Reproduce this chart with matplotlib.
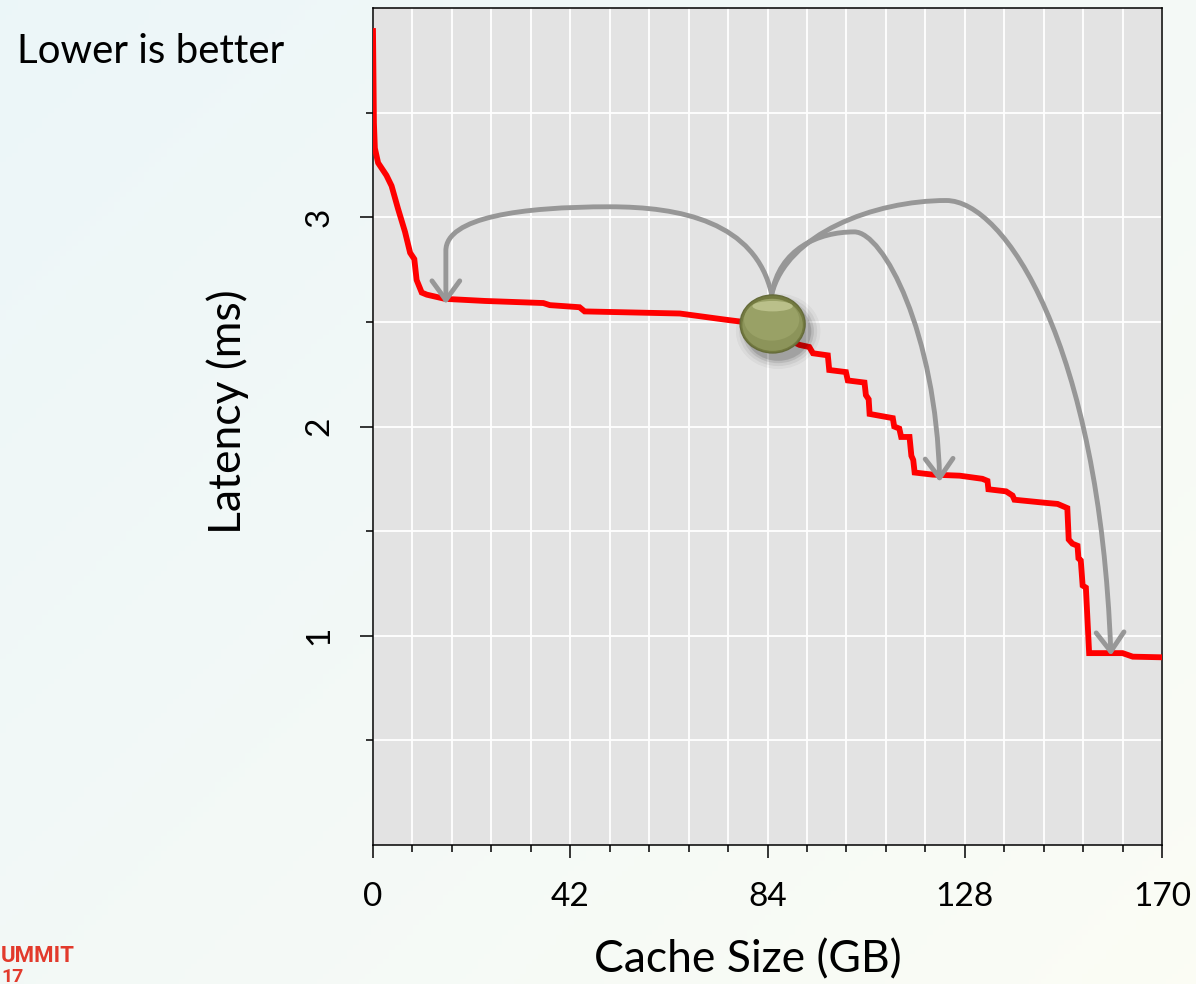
import numpy as np
import matplotlib
matplotlib.use("Agg")
import matplotlib.pyplot as plt
from matplotlib.patches import Ellipse, FancyArrowPatch
from matplotlib.path import Path

# ---------------- data ----------------
cache_gb = [0.0, 0.2, 0.4, 1.1, 2.9, 4.0, 5.4, 6.9, 8.0, 8.9, 9.4, 10.5, 11.6,
            15.5, 24.1, 36.7, 38.1, 44.5, 45.6, 66.1, 76.1, 79.7, 86.0, 88.0,
            90.0, 91.9, 94.0, 94.8, 98.0, 98.3, 101.9, 102.3, 105.9, 106.2,
            106.8, 107.0, 112.0, 112.3, 113.4, 113.8, 115.6, 116.0, 116.4,
            116.7, 120.6, 126.4, 131.3, 132.4, 132.6, 136.4, 137.8, 138.2,
            145.0, 147.5, 149.6, 149.9, 150.7, 151.8, 152.0, 152.5, 152.9,
            153.6, 154.3, 161.5, 163.7, 170.0]
latency_ms = [3.89, 3.45, 3.33, 3.26, 3.20, 3.15, 3.04, 2.93, 2.83, 2.80, 2.70,
              2.64, 2.63, 2.61, 2.60, 2.59, 2.58, 2.57, 2.55, 2.54, 2.51, 2.50,
              2.47, 2.44, 2.41, 2.39, 2.38, 2.35, 2.34, 2.27, 2.26, 2.22, 2.21,
              2.15, 2.13, 2.06, 2.04, 2.00, 1.99, 1.95, 1.95, 1.86, 1.84, 1.78,
              1.77, 1.765, 1.75, 1.74, 1.70, 1.69, 1.67, 1.65, 1.635, 1.63,
              1.61, 1.46, 1.44, 1.43, 1.37, 1.36, 1.24, 1.23, 0.917, 0.917,
              0.90, 0.897]

x_tick_pos = [0, 42.5, 85, 127.5, 170]
x_tick_labels = ["0", "42", "84", "128", "170"]
y_tick_pos = [1, 2, 3]
y_tick_labels = ["1", "2", "3"]

# ---------------- figure ----------------
FONT = "Lato"
plt.rcParams["font.family"] = [FONT, "DejaVu Sans"]

fig = plt.figure(figsize=(11.96, 9.84), dpi=100)

# slide background gradient
bg = fig.add_axes([0, 0, 1, 1], zorder=-10)
gx, gy = np.meshgrid(np.linspace(0, 1, 200), np.linspace(0, 1, 200))
t = np.clip(0.55 * gx + 0.45 * gy, 0, 1)
c0 = np.array([0.925, 0.965, 0.975])   # top-left light blue
c1 = np.array([0.985, 0.990, 0.960])   # bottom-right cream
img = c0[None, None, :] * (1 - t[..., None]) + c1[None, None, :] * t[..., None]
bg.imshow(img, extent=[0, 1, 0, 1], aspect="auto", origin="upper")
bg.axis("off")

ax = fig.add_axes([373 / 1196, 1 - 845 / 984, (1162 - 373) / 1196, (845 - 8) / 984])
ax.set_facecolor("#e3e3e3")
ax.set_xlim(0, 170)
ax.set_ylim(0, 4)

ax.set_xticks(x_tick_pos)
ax.set_xticklabels(x_tick_labels)
ax.set_xticks(np.arange(0, 170.01, 8.5), minor=True)
ax.set_yticks(y_tick_pos)
ax.set_yticklabels(y_tick_labels)
ax.set_yticks([0.5, 1.5, 2.5, 3.5], minor=True)

ax.grid(True, which="both", color="white", linewidth=1.3)
ax.set_axisbelow(True)

ax.tick_params(axis="both", which="major", direction="out", length=9.5,
               width=1.1, labelsize=24, color="black", labelcolor="black")
ax.tick_params(axis="both", which="minor", direction="out", length=5,
               width=1.1, color="black")
ax.tick_params(axis="x", which="major", pad=17)
ax.tick_params(axis="y", which="major", pad=18, labelrotation=90)
for lab in ax.get_yticklabels():
    lab.set_va("center")
for sp in ax.spines.values():
    sp.set_color("black")
    sp.set_linewidth(1.1)

# data line
ax.plot(cache_gb, latency_ms, color="#ff0000", linewidth=4.2,
        solid_joinstyle="miter", zorder=3)

# curved arrows from the marker
arrow_kw = dict(arrowstyle="->,head_length=0.55,head_width=0.4",
                mutation_scale=25, color="#979797", linewidth=3.5, zorder=4,
                joinstyle="round", capstyle="round")
M, C, L = Path.MOVETO, Path.CURVE4, Path.LINETO
start = (85.9, 2.63)
arrows = [
    ([start, (82.5, 2.98), (66, 3.05), (51, 3.05),
      (32, 3.05), (15.7, 3.0), (15.7, 2.84), (15.7, 2.585)],
     [M, C, C, C, C, C, C, L]),
    ([start, (87.5, 2.85), (96, 2.93), (103.7, 2.93),
      (110, 2.93), (121.3, 2.45), (122.1, 1.735)],
     [M, C, C, C, C, C, C]),
    ([start, (89, 2.92), (108, 3.08), (123.5, 3.08),
      (136, 3.08), (156.5, 2.4), (159.0, 0.905)],
     [M, C, C, C, C, C, C]),
]
for verts, codes in arrows:
    p = FancyArrowPatch(path=Path(verts, codes), **arrow_kw)
    ax.add_patch(p)

# glossy olive marker
bx, by = 86.1, 2.49
bw, bh = 14.0, 0.277
for s, a in [(1.3, 0.04), (1.2, 0.06), (1.1, 0.09), (1.02, 0.13)]:
    ax.add_patch(Ellipse((bx + 1.2, by - 0.035), bw * s, bh * s,
                         facecolor="black", edgecolor="none", alpha=a, zorder=5))
ax.add_patch(Ellipse((bx, by), bw, bh, facecolor="#737a40",
                     edgecolor="#656b3a", linewidth=1.0, zorder=6))
ax.add_patch(Ellipse((bx, by - 0.004), bw * 0.93, bh * 0.9,
                     facecolor="#8c945a", edgecolor="none", zorder=6))
ax.add_patch(Ellipse((bx - 0.2, by + 0.02), bw * 0.85, bh * 0.72,
                     facecolor="#99a166", edgecolor="none", zorder=6))
ax.add_patch(Ellipse((bx, by + 0.085), bw * 0.62, bh * 0.18,
                     facecolor="#c3c894", edgecolor="none", alpha=0.8, zorder=7))

# texts
fig.text(747.5 / 1196, 1 - 972 / 984, "Cache Size (GB)", ha="center",
         va="baseline", fontsize=32, color="black")
fig.text(228 / 1196, 1 - 412 / 984, "Latency (ms)", ha="center", va="center",
         rotation=90, fontsize=32, color="black")
fig.text(17 / 1196, 1 - 63 / 984, "Lower is better", ha="left",
         va="baseline", fontsize=29, color="black")
fig.text(1 / 1196, 1 - 962 / 984, "UMMIT", ha="left", va="baseline",
         fontsize=16, fontweight="bold", color="#e23a2c",
         family=["Roboto", "DejaVu Sans"])
fig.text(1 / 1196, 1 - 982 / 984, "17", ha="left", va="baseline",
         fontsize=14, fontweight="bold", color="#e23a2c",
         family=["Roboto", "DejaVu Sans"])

fig.savefig("out.png", dpi=100)
